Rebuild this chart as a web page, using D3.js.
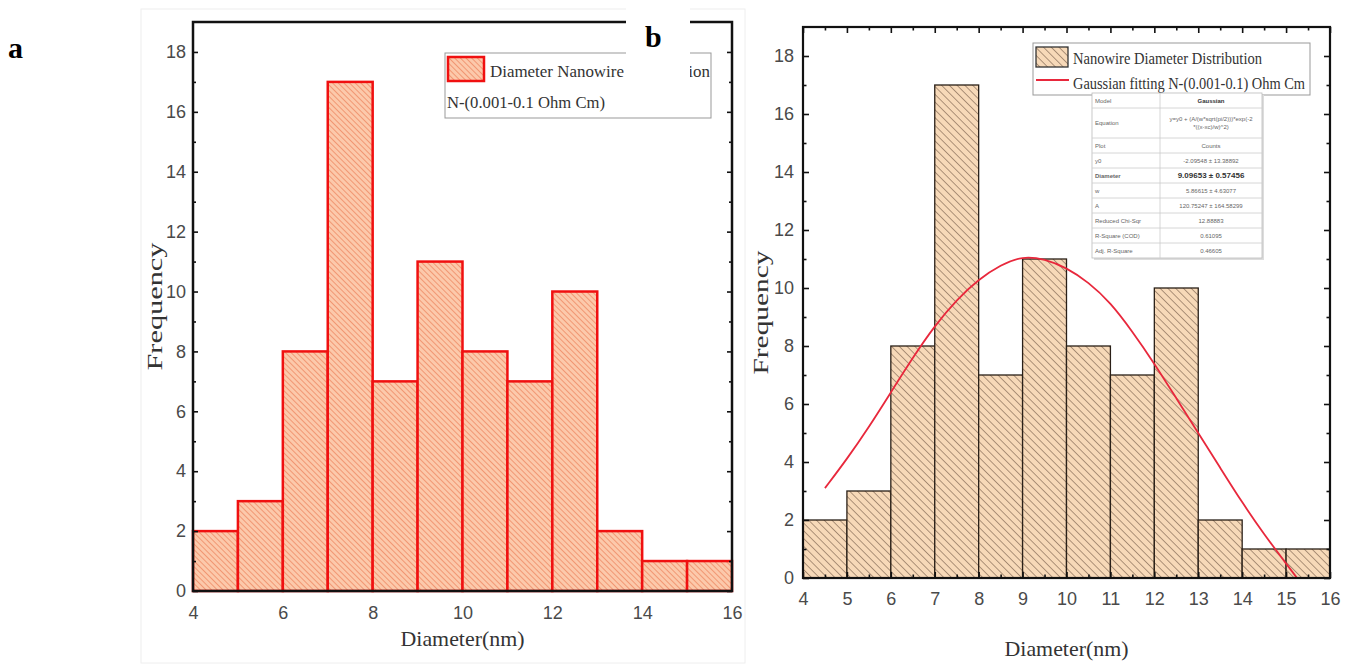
<!DOCTYPE html>
<html>
<head>
<meta charset="utf-8">
<script src="https://cdn.jsdelivr.net/npm/d3@7.9.0/dist/d3.min.js"></script>
<style>
  body { margin: 0; background: #fff; }
  svg { display: block; }
  .tick text { font-family: 'Liberation Sans', Arial, sans-serif; fill: #4a4a4a; }
  .serif { font-family: 'Liberation Serif', 'Times New Roman', serif; fill: #333; }
</style>
</head>
<body>
<svg id="chart" width="1345" height="670"></svg>
<script>
// histogram bins (nm) and counts
const binEdges = [4, 5, 6, 7, 8, 9, 10, 11, 12, 13, 14, 15, 16];
const countsA = [2, 3, 8, 17, 7, 11, 8, 7, 10, 2, 1, 1];
const countsB = [2, 3, 8, 17, 7, 11, 8, 7, 10, 2, 1, 1];

// gaussian fit curve
const fitX = [4.5, 5, 5.5, 6, 6.5, 7, 7.5, 8, 8.5, 9, 9.5, 10, 10.5, 11, 11.5, 12, 12.5, 13, 13.5, 14, 14.5, 15, 15.25];
const fitY = [3.1, 4.1, 5.2, 6.4, 7.6, 8.7, 9.6, 10.3, 10.8, 11.1, 11.0, 10.7, 10.2, 9.5, 8.5, 7.4, 6.2, 5.0, 3.8, 2.6, 1.5, 0.5, 0.0];

const yMajor = [0, 2, 4, 6, 8, 10, 12, 14, 16, 18];
const yMinor = [1, 3, 5, 7, 9, 11, 13, 15, 17];
const xTicksA = [4, 6, 8, 10, 12, 14, 16];
const xTicksB = [4, 5, 6, 7, 8, 9, 10, 11, 12, 13, 14, 15, 16];
const xMinorB = [4.5, 5.5, 6.5, 7.5, 8.5, 9.5, 10.5, 11.5, 12.5, 13.5, 14.5, 15.5];

const legendA = ['Diameter Nanowire Distribution', 'N-(0.001-0.1 Ohm Cm)'];
const legendB = ['Nanowire Diameter Distribution', 'Gaussian fitting N-(0.001-0.1) Ohm Cm'];

const tableNames = ['Model', 'Equation', 'Plot', 'y0', 'Diameter', 'w', 'A', 'Reduced Chi-Sqr', 'R-Square (COD)', 'Adj. R-Square'];
const tableValues = ['Gaussian', 'y=y0 + (A/(w*sqrt(pi/2)))*exp(-2|*((x-xc)/w)^2)', 'Counts', '-2.09548 \u00b1 13.38892',
  '9.09653 \u00b1 0.57456', '5.86615 \u00b1 4.63077', '120.75247 \u00b1 164.58299', '12.88883', '0.61095', '0.46605'];

const svg = d3.select('#chart');
const defs = svg.append('defs');

function hatch(id, bg, line, gap, w) {
  const p = defs.append('pattern')
    .attr('id', id)
    .attr('patternUnits', 'userSpaceOnUse')
    .attr('width', gap).attr('height', gap)
    .attr('patternTransform', 'rotate(-45)');
  p.append('rect').attr('width', gap).attr('height', gap).attr('fill', bg);
  p.append('line').attr('x1', 0).attr('y1', 0).attr('x2', 0).attr('y2', gap)
    .attr('stroke', line).attr('stroke-width', w);
}
hatch('hatchA', '#fcc9ab', '#ef8a64', 4, 1.6);
hatch('hatchB', '#f7d9b8', '#6e5442', 5.5, 1.1);

const bins = (counts) => counts.map((c, i) => ({ x0: binEdges[i], x1: binEdges[i + 1], n: c }));

function addAxis(g, axis, cls) {
  const a = g.append('g').attr('class', cls).call(axis);
  a.select('.domain').remove();
  a.selectAll('.tick line').attr('stroke', '#111').attr('stroke-width', 1.6);
  return a;
}

// ---------- panel a ----------
const xa = d3.scaleLinear().domain([4, 16]).range([193, 732]);
const ya = d3.scaleLinear().domain([0, 19]).range([591, 22]);
const ga = svg.append('g');

ga.append('rect').attr('x', 141).attr('y', 9).attr('width', 604).attr('height', 654)
  .attr('fill', 'none').attr('stroke', '#eeeeee');

ga.selectAll('rect.bar').data(bins(countsA)).join('rect')
  .attr('class', 'bar')
  .attr('x', d => xa(d.x0)).attr('width', d => xa(d.x1) - xa(d.x0))
  .attr('y', d => ya(d.n)).attr('height', d => ya(0) - ya(d.n))
  .attr('fill', 'url(#hatchA)').attr('stroke', '#f01010').attr('stroke-width', 2.5);

ga.append('rect').attr('x', xa(4)).attr('y', ya(19))
  .attr('width', xa(16) - xa(4)).attr('height', ya(0) - ya(19))
  .attr('fill', 'none').attr('stroke', '#111').attr('stroke-width', 2.5);

addAxis(ga, d3.axisLeft(ya).tickValues(yMajor).tickSize(-5).tickPadding(7), 'ya')
  .attr('transform', `translate(${xa(4)},0)`).selectAll('text').attr('font-size', 18);
addAxis(ga, d3.axisLeft(ya).tickValues(yMinor).tickSize(-3).tickFormat(''), 'ya-m')
  .attr('transform', `translate(${xa(4)},0)`);
addAxis(ga, d3.axisRight(ya).tickValues(yMajor).tickSize(-5).tickFormat(''), 'ya-r')
  .attr('transform', `translate(${xa(16)},0)`);
addAxis(ga, d3.axisRight(ya).tickValues(yMinor).tickSize(-3).tickFormat(''), 'ya-rm')
  .attr('transform', `translate(${xa(16)},0)`);
addAxis(ga, d3.axisBottom(xa).tickValues(xTicksA).tickSize(0).tickPadding(15), 'xa')
  .attr('transform', `translate(0,${ya(0)})`).selectAll('text').attr('font-size', 18);

ga.append('text').attr('class', 'serif')
  .attr('transform', `translate(162,${(ya(0) + ya(19)) / 2}) rotate(-90)`)
  .attr('text-anchor', 'middle').attr('font-size', 21)
  .attr('textLength', 128).attr('lengthAdjust', 'spacingAndGlyphs')
  .text('Frequency');
ga.append('text').attr('class', 'serif')
  .attr('x', (xa(4) + xa(16)) / 2).attr('y', 646)
  .attr('text-anchor', 'middle').attr('font-size', 21)
  .attr('textLength', 124).attr('lengthAdjust', 'spacingAndGlyphs')
  .text('Diameter(nm)');

// legend a
ga.append('rect').attr('x', 445).attr('y', 53).attr('width', 266).attr('height', 65)
  .attr('fill', '#fff').attr('stroke', '#999').attr('stroke-width', 1);
ga.append('rect').attr('x', 448).attr('y', 57).attr('width', 36).attr('height', 24)
  .attr('fill', 'url(#hatchA)').attr('stroke', '#f01010').attr('stroke-width', 2.5);
ga.append('text').attr('class', 'serif').attr('x', 490).attr('y', 77).attr('font-size', 17)
  .attr('textLength', 220).attr('lengthAdjust', 'spacingAndGlyphs').text(legendA[0]);
ga.append('text').attr('class', 'serif').attr('x', 447).attr('y', 108).attr('font-size', 17)
  .attr('textLength', 158).attr('lengthAdjust', 'spacingAndGlyphs').text(legendA[1]);

// ---------- panel b ----------
const xb = d3.scaleLinear().domain([4, 16]).range([803, 1330]);
const yb = d3.scaleLinear().domain([0, 19]).range([578, 27]);
const gb = svg.append('g');

gb.selectAll('rect.bar').data(bins(countsB)).join('rect')
  .attr('class', 'bar')
  .attr('x', d => xb(d.x0)).attr('width', d => xb(d.x1) - xb(d.x0))
  .attr('y', d => yb(d.n)).attr('height', d => yb(0) - yb(d.n))
  .attr('fill', 'url(#hatchB)').attr('stroke', '#2a2018').attr('stroke-width', 1.3);

const fitLine = d3.line().x(d => xb(d[0])).y(d => yb(d[1])).curve(d3.curveBasis);
gb.append('path').datum(d3.zip(fitX, fitY))
  .attr('d', fitLine).attr('fill', 'none')
  .attr('stroke', '#e8283c').attr('stroke-width', 1.8);

gb.append('rect').attr('x', xb(4)).attr('y', yb(19))
  .attr('width', xb(16) - xb(4)).attr('height', yb(0) - yb(19))
  .attr('fill', 'none').attr('stroke', '#111').attr('stroke-width', 2.2);

addAxis(gb, d3.axisLeft(yb).tickValues(yMajor).tickSize(-6).tickPadding(9), 'yb')
  .attr('transform', `translate(${xb(4)},0)`).selectAll('text').attr('font-size', 18);
addAxis(gb, d3.axisLeft(yb).tickValues(yMinor).tickSize(-3.5).tickFormat(''), 'yb-m')
  .attr('transform', `translate(${xb(4)},0)`);
addAxis(gb, d3.axisRight(yb).tickValues(yMajor).tickSize(-6).tickFormat(''), 'yb-r')
  .attr('transform', `translate(${xb(16)},0)`);
addAxis(gb, d3.axisRight(yb).tickValues(yMinor).tickSize(-3.5).tickFormat(''), 'yb-rm')
  .attr('transform', `translate(${xb(16)},0)`);
addAxis(gb, d3.axisBottom(xb).tickValues(xTicksB).tickSize(-6).tickPadding(14), 'xb')
  .attr('transform', `translate(0,${yb(0)})`).selectAll('text').attr('font-size', 18);
addAxis(gb, d3.axisBottom(xb).tickValues(xMinorB).tickSize(-3.5).tickFormat(''), 'xb-m')
  .attr('transform', `translate(0,${yb(0)})`);
addAxis(gb, d3.axisTop(xb).tickValues(xTicksB).tickSize(-6).tickFormat(''), 'xb-t')
  .attr('transform', `translate(0,${yb(19)})`);
addAxis(gb, d3.axisTop(xb).tickValues(xMinorB).tickSize(-3.5).tickFormat(''), 'xb-tm')
  .attr('transform', `translate(0,${yb(19)})`);

gb.append('text').attr('class', 'serif')
  .attr('transform', `translate(768,${(yb(0) + yb(19)) / 2 + 10}) rotate(-90)`)
  .attr('text-anchor', 'middle').attr('font-size', 21)
  .attr('textLength', 124).attr('lengthAdjust', 'spacingAndGlyphs')
  .text('Frequency');
gb.append('text').attr('class', 'serif')
  .attr('x', (xb(4) + xb(16)) / 2).attr('y', 656)
  .attr('text-anchor', 'middle').attr('font-size', 21)
  .attr('textLength', 124).attr('lengthAdjust', 'spacingAndGlyphs')
  .text('Diameter(nm)');

// legend b
gb.append('rect').attr('x', 1033).attr('y', 43).attr('width', 277).attr('height', 52)
  .attr('fill', '#fff').attr('stroke', '#999').attr('stroke-width', 1);
gb.append('rect').attr('x', 1036).attr('y', 47).attr('width', 32).attr('height', 20)
  .attr('fill', 'url(#hatchB)').attr('stroke', '#333').attr('stroke-width', 1.3);
gb.append('line').attr('x1', 1036).attr('x2', 1069).attr('y1', 80).attr('y2', 80)
  .attr('stroke', '#e8283c').attr('stroke-width', 2.2);
gb.append('text').attr('class', 'serif').attr('x', 1073).attr('y', 64).attr('font-size', 16)
  .attr('textLength', 189).attr('lengthAdjust', 'spacingAndGlyphs').text(legendB[0]);
gb.append('text').attr('class', 'serif').attr('x', 1073).attr('y', 89).attr('font-size', 16)
  .attr('textLength', 232).attr('lengthAdjust', 'spacingAndGlyphs').text(legendB[1]);

// fit results table
const tb = gb.append('g');
const rowH = tableNames.map(n => n === 'Equation' ? 30 : 15);
const rowTop = rowH.map((h, i) => 93 + d3.sum(rowH.slice(0, i)));
const tx0 = 1092, tx1 = 1160, tx2 = 1262;
tb.append('rect').attr('x', tx0 + 2).attr('y', 95).attr('width', tx2 - tx0).attr('height', d3.sum(rowH))
  .attr('fill', '#ddd');
tb.append('rect').attr('x', tx0).attr('y', 93).attr('width', tx2 - tx0).attr('height', d3.sum(rowH))
  .attr('fill', '#fff').attr('stroke', '#bbb').attr('stroke-width', 0.8);
tb.append('line').attr('x1', tx1).attr('x2', tx1).attr('y1', 93).attr('y2', 93 + d3.sum(rowH))
  .attr('stroke', '#ccc').attr('stroke-width', 0.8);
tableNames.forEach((name, i) => {
  if (i > 0) {
    tb.append('line').attr('x1', tx0).attr('x2', tx2).attr('y1', rowTop[i]).attr('y2', rowTop[i])
      .attr('stroke', '#ccc').attr('stroke-width', 0.8);
  }
  const cy = rowTop[i] + rowH[i] / 2 + 2;
  const bold = name === 'Diameter' ? 'bold' : 'normal';
  tb.append('text').attr('x', tx0 + 3).attr('y', cy).attr('font-size', 6)
    .attr('font-family', 'Liberation Sans, Arial, sans-serif').attr('fill', '#666')
    .attr('font-weight', bold).text(name);
  const parts = tableValues[i].split('|');
  parts.forEach((p, k) => {
    tb.append('text').attr('x', (tx1 + tx2) / 2)
      .attr('y', cy + (k - (parts.length - 1) / 2) * 8)
      .attr('text-anchor', 'middle')
      .attr('font-size', i === 4 ? 8 : 6)
      .attr('font-family', 'Liberation Sans, Arial, sans-serif')
      .attr('fill', i === 4 || i === 0 ? '#333' : '#666')
      .attr('font-weight', i === 4 || i === 0 ? 'bold' : 'normal')
      .text(p);
  });
});

// panel labels
svg.append('text').attr('class', 'serif').attr('x', 8).attr('y', 58)
  .attr('font-size', 30).attr('font-weight', 'bold').style('fill', '#000').text('a');
svg.append('rect').attr('x', 626).attr('y', 0).attr('width', 64).attr('height', 83).attr('fill', '#fff');
svg.append('text').attr('class', 'serif').attr('x', 645).attr('y', 47)
  .attr('font-size', 30).attr('font-weight', 'bold').style('fill', '#000').text('b');
</script>
</body>
</html>
